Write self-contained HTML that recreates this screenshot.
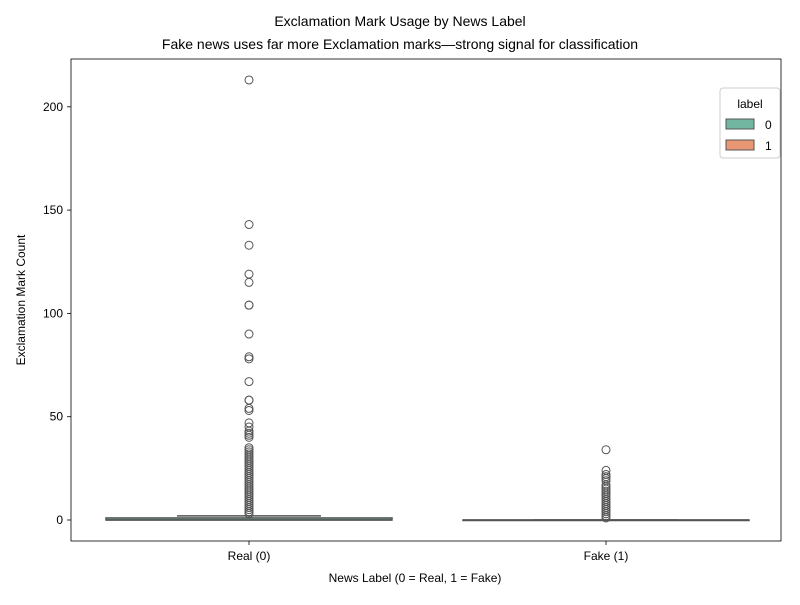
<!DOCTYPE html>
<html><head><meta charset="utf-8"><style>
body{margin:0;background:#fff;font-family:"Liberation Sans","DejaVu Sans",sans-serif}
</style></head><body>
<svg id="c" width="800" height="600" xmlns="http://www.w3.org/2000/svg" font-family="Liberation Sans, DejaVu Sans, sans-serif">
<text x="400" y="26" text-anchor="middle" font-size="14" fill="#000">Exclamation Mark Usage by News Label</text>
<text x="400" y="49" text-anchor="middle" font-size="14" fill="#000">Fake news uses far more Exclamation marks—strong signal for classification</text>
<rect x="71" y="59" width="710" height="482" fill="none" stroke="#000" stroke-width="0.8"/>
<g id="yaxis"></g><g id="xaxis"></g><g id="marks"></g>
<text x="415" y="582" text-anchor="middle" font-size="12">News Label (0 = Real, 1 = Fake)</text>
<text transform="translate(25,300) rotate(-90)" text-anchor="middle" font-size="12">Exclamation Mark Count</text>
<g>
<rect x="720" y="88" width="60" height="70" rx="3" fill="#fff" stroke="#ccc"/>
<text x="750" y="108" text-anchor="middle" font-size="12">label</text>
<rect x="726" y="119" width="28" height="10" fill="#72b6a1" stroke="#555"/>
<text x="765" y="129" font-size="12">0</text>
<rect x="726" y="140" width="28" height="10" fill="#e99675" stroke="#555"/>
<text x="765" y="150" font-size="12">1</text>
</g>
</svg>
<script>
const categories=["Real (0)","Fake (1)"];
const yTicks=[0,50,100,150,200];
const q1=[0,0], med=[0,0], q3=[1,0], whLo=[0,0], whHi=[2,0];
const outliersReal=[213,143,133,119,115,104,104,90,79,78,67,58,58,54,53,47,45,43,42,41,40,35,34,33,32,31,30,29,28,27,26,25,24,23,22,21,20,19,18,17,16,15,14,13,12,11,10,9,8,7,6,5,4,3];
const outliersFake=[34,24,22,21,20,19,17,16,15,14,13,12,11,10,9,8,7,6,5,4,3,2,1];
const colors=["#72b6a1","#e99675"];
const NS="http://www.w3.org/2000/svg";
const y=v=>520-v*2.066;
const x=i=>249+i*357;
function mk(tag,attrs,parent){const e=document.createElementNS(NS,tag);for(const k in attrs)e.setAttribute(k,attrs[k]);document.getElementById(parent).appendChild(e);return e;}
yTicks.forEach(t=>{
 const l=mk('line',{x1:67,x2:71,y1:y(t),y2:y(t),stroke:'#000','stroke-width':0.8},'yaxis');
 
 
 const tx=mk('text',{x:63,y:y(t)+4,'text-anchor':'end','font-size':12},'yaxis');tx.textContent=t;
 
 
});
categories.forEach((c,i)=>{
 const l=mk('line',{x1:x(i),x2:x(i),y1:541,y2:545,stroke:'#000','stroke-width':0.8},'xaxis');
 
 
 const tx=mk('text',{x:x(i),y:560,'text-anchor':'middle','font-size':12},'xaxis');tx.textContent=c;
 
 
 const hw=143, cw=72;
 const w1=mk('line',{x1:x(i),x2:x(i),y1:y(q3[i]),y2:y(whHi[i]),stroke:'#555','stroke-width':1.5},'marks');
 
 
 const cap=mk('line',{x1:x(i)-cw,x2:x(i)+cw,y1:y(whHi[i]),y2:y(whHi[i]),stroke:'#555','stroke-width':1.5},'marks');
 
 
 const b=mk('rect',{x:x(i)-hw,width:hw*2,y:y(q3[i]),height:Math.max(y(q1[i])-y(q3[i]),0.5),fill:colors[i],stroke:'#555','stroke-width':1.5},'marks');
 
 
 const m=mk('line',{x1:x(i)-hw,x2:x(i)+hw,y1:y(med[i]),y2:y(med[i]),stroke:'#555','stroke-width':1.5},'marks');
 
 
 const outs=i==0?outliersReal:outliersFake;
 outs.forEach(v=>{
  const o=mk('circle',{cx:x(i),cy:y(v),r:4,fill:'none',stroke:'#555','stroke-width':1},'marks');
  
  
 });
});
</script>
</body></html>
